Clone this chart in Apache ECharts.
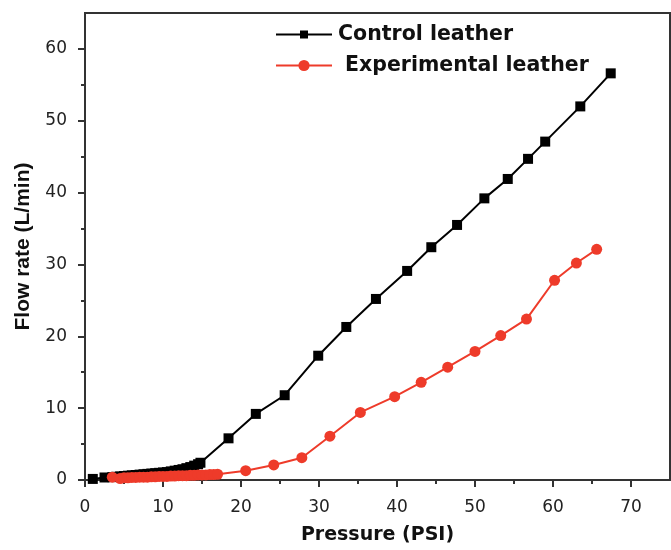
<!DOCTYPE html>
<html>
<head>
<meta charset="utf-8">
<script src="https://cdn.jsdelivr.net/npm/echarts@6/dist/echarts.min.js"></script>
<style>html,body{margin:0;padding:0;background:#fff;}#chart{width:671px;height:550px;}</style>
</head>
<body>
<div id="chart"></div>
<script>
// ---- data ----
const controlName = 'Control leather';
const experimentalName = 'Experimental leather';
const controlX = [1.0, 2.5, 3.5, 4.0, 4.5, 5.0, 5.5, 6.0, 6.5, 7.0, 7.5, 8.0, 8.5, 9.0, 9.5, 10.0, 10.5, 11.0, 11.5, 12.0, 12.5, 13.0, 13.5, 14.0, 14.5, 14.8, 18.4, 21.9, 25.6, 29.9, 33.5, 37.3, 41.3, 44.4, 47.7, 51.2, 54.2, 56.8, 59.0, 63.5, 67.4];
const controlY = [0.15, 0.35, 0.4, 0.45, 0.5, 0.55, 0.6, 0.65, 0.7, 0.75, 0.8, 0.85, 0.9, 0.95, 1.0, 1.05, 1.1, 1.2, 1.3, 1.4, 1.5, 1.65, 1.8, 2.0, 2.2, 2.4, 5.8, 9.2, 11.8, 17.3, 21.3, 25.2, 29.1, 32.4, 35.5, 39.2, 41.9, 44.7, 47.1, 52.0, 56.6];
const expX = [3.5, 4.5, 5.0, 5.5, 6.0, 6.5, 7.0, 7.5, 8.0, 8.5, 9.0, 9.5, 10.0, 10.5, 11.0, 11.5, 12.0, 12.5, 13.0, 13.5, 14.0, 14.5, 15.0, 15.5, 16.0, 16.5, 17.0, 20.6, 24.2, 27.8, 31.4, 35.3, 39.7, 43.1, 46.5, 50.0, 53.3, 56.6, 60.2, 63.0, 65.6];
const expY = [0.4, 0.2, 0.3, 0.3, 0.35, 0.35, 0.4, 0.4, 0.4, 0.45, 0.45, 0.5, 0.5, 0.5, 0.55, 0.55, 0.6, 0.6, 0.6, 0.65, 0.65, 0.7, 0.7, 0.7, 0.75, 0.75, 0.8, 1.3, 2.1, 3.1, 6.1, 9.4, 11.6, 13.6, 15.7, 17.9, 20.1, 22.4, 27.8, 30.2, 32.1];
const xMajorTicks = [0, 10, 20, 30, 40, 50, 60, 70];
const xMinorTicks = [5, 15, 25, 35, 45, 55, 65];
const yMajorTicks = [0, 10, 20, 30, 40, 50, 60];
const yMinorTicks = [5, 15, 25, 35, 45, 55];
const xTitle = 'Pressure (PSI)';
const yTitle = 'Flow rate (L/min)';

// ---- chart ----
const zip = (xs, ys) => xs.map((x, i) => [x, ys[i]]);
const axisColor = '#333';
const labelFont = { fontFamily: 'DejaVu Sans', fontSize: 17, color: '#222' };

const chart = echarts.init(document.getElementById('chart'), null, { renderer: 'canvas' });
chart.setOption({
  backgroundColor: '#fff',
  animation: false,
  grid: { left: 85, right: 1, top: 13, bottom: 68, show: true, borderColor: axisColor, borderWidth: 2 },
  legend: [
    {
      data: [controlName], left: 275, top: 24, padding: 0, itemWidth: 56, itemHeight: 10, itemGap: 0,
      lineStyle: { width: 2 },
      textStyle: { fontFamily: 'DejaVu Sans', fontWeight: 'bold', fontSize: 20.5, color: '#111', padding: [0, 0, 0, 1] }
    },
    {
      data: [experimentalName], left: 275, top: 55, padding: 0, itemWidth: 56, itemHeight: 14, itemGap: 0,
      lineStyle: { width: 2 },
      textStyle: { fontFamily: 'DejaVu Sans', fontWeight: 'bold', fontSize: 20.5, color: '#111', padding: [0, 0, 0, 8] }
    }
  ],
  xAxis: [
    {
      type: 'value', min: 0, max: 75, interval: 5, position: 'bottom',
      name: xTitle, nameLocation: 'middle', nameGap: 46,
      nameTextStyle: { fontFamily: 'DejaVu Sans', fontWeight: 'bold', fontSize: 19, color: '#111' },
      axisLine: { show: true, lineStyle: { color: axisColor, width: 2 } },
      axisTick: { show: true, inside: false, length: 7, customValues: xMajorTicks, lineStyle: { color: axisColor, width: 2 } },
      axisLabel: { show: true, margin: 19, customValues: xMajorTicks, ...labelFont },
      splitLine: { show: false }
    },
    {
      type: 'value', min: 0, max: 75, interval: 5, position: 'bottom',
      axisLine: { show: false },
      axisTick: { show: true, inside: false, length: 4, customValues: xMinorTicks, lineStyle: { color: axisColor, width: 2 } },
      axisLabel: { show: false },
      splitLine: { show: false }
    }
  ],
  yAxis: [
    {
      type: 'value', min: 0, max: 65, interval: 5, position: 'left',
      name: yTitle, nameLocation: 'middle', nameGap: 51,
      nameTextStyle: { fontFamily: 'Liberation Sans', fontWeight: 'bold', fontSize: 21, color: '#111' },
      axisLine: { show: true, lineStyle: { color: axisColor, width: 2 } },
      axisTick: { show: true, inside: false, length: 7, customValues: yMajorTicks, lineStyle: { color: axisColor, width: 2 } },
      axisLabel: { show: true, margin: 18, customValues: yMajorTicks, ...labelFont },
      splitLine: { show: false }
    },
    {
      type: 'value', min: 0, max: 65, interval: 5, position: 'left',
      axisLine: { show: false },
      axisTick: { show: true, inside: false, length: 4, customValues: yMinorTicks, lineStyle: { color: axisColor, width: 2 } },
      axisLabel: { show: false },
      splitLine: { show: false }
    }
  ],
  series: [
    {
      name: controlName, type: 'line', xAxisIndex: 0, yAxisIndex: 0,
      data: zip(controlX, controlY),
      symbol: 'rect', symbolSize: 10,
      itemStyle: { color: '#000' },
      lineStyle: { color: '#000', width: 2 },
      clip: false
    },
    {
      name: experimentalName, type: 'line', xAxisIndex: 0, yAxisIndex: 0,
      data: zip(expX, expY),
      symbol: 'circle', symbolSize: 11,
      itemStyle: { color: '#EE3B2A' },
      lineStyle: { color: '#EE3B2A', width: 2 },
      clip: false
    }
  ]
});
</script>
</body>
</html>
